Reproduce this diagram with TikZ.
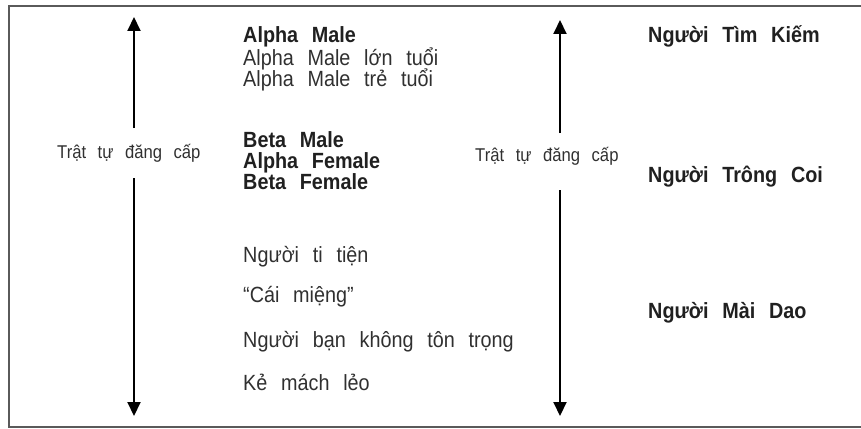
\documentclass[tikz,border=0pt]{standalone}
\usepackage{fontspec}
\setmainfont{Liberation Sans}[WordSpace=2.5, FakeStretch=0.9]
\usetikzlibrary{arrows.meta}
\definecolor{txt}{HTML}{202020}
\definecolor{txtreg}{HTML}{303030}
\definecolor{framec}{HTML}{5a5a5a}
\tikzset{
  x=1pt, y=-1pt,
  boldtxt/.style={anchor=base west, inner sep=0pt, text=txt, font=\fontsize{22}{26}\selectfont\bfseries},
  regtxt/.style={anchor=base west, inner sep=0pt, text=txtreg, font=\fontsize{22}{26}\selectfont},
  smalltxt/.style={anchor=base west, inner sep=0pt, text=txtreg, font=\fontsize{18.5}{22}\selectfont},
  arr/.style={draw=black, line width=2pt, -{Triangle[length=14pt,width=13pt]}},
  framel/.style={draw=framec, line width=2pt}
}
\begin{document}
\begin{tikzpicture}
\useasboundingbox (0,0) rectangle (861,428);
% frame
\coordinate (ftr) at (862,6);
\coordinate (ftl) at (9,6);
\coordinate (fbl) at (9,426.5);
\coordinate (fbr) at (862,426.5);
\draw[framel] (ftr) -- (ftl) -- (fbl) -- (fbr);

% left hierarchy arrow
\node[smalltxt] (lbl1) at (57,158) {Trật tự đăng cấp};
\coordinate (a1s) at (134,128);
\coordinate (a1e) at (134,17);
\coordinate (a2s) at (134,178);
\coordinate (a2e) at (134,416);
\draw[arr] (a1s) -- (a1e);
\draw[arr] (a2s) -- (a2e);

% middle column
\node[boldtxt] (t1) at (243,42) {Alpha  Male};
\node[regtxt]  (t2) at (243,65) {Alpha Male lớn tuổi};
\node[regtxt]  (t3) at (243,86) {Alpha Male trẻ tuổi};
\node[boldtxt] (t4) at (243,147) {Beta Male};
\node[boldtxt] (t5) at (243,168) {Alpha  Female};
\node[boldtxt] (t6) at (243,189) {Beta Female};
\node[regtxt]  (t7) at (243,262) {Người ti tiện};
\node[regtxt]  (t8) at (243,302) {“Cái miệng”};
\node[regtxt]  (t9) at (243,347) {Người bạn không tôn trọng};
\node[regtxt]  (t10) at (243,390) {Kẻ mách lẻo};

% right hierarchy arrow
\node[smalltxt] (lbl2) at (475,161) {Trật tự đăng cấp};
\coordinate (b1s) at (560,133);
\coordinate (b1e) at (560,20);
\coordinate (b2s) at (560,190);
\coordinate (b2e) at (560,416);
\draw[arr] (b1s) -- (b1e);
\draw[arr] (b2s) -- (b2e);

% right column
\node[boldtxt] (r1) at (648,43) {Người Tìm Kiếm};
\node[boldtxt] (r2) at (648,182) {Người Trông Coi};
\node[boldtxt] (r3) at (648,318) {Người Mài Dao};
\end{tikzpicture}
\end{document}
